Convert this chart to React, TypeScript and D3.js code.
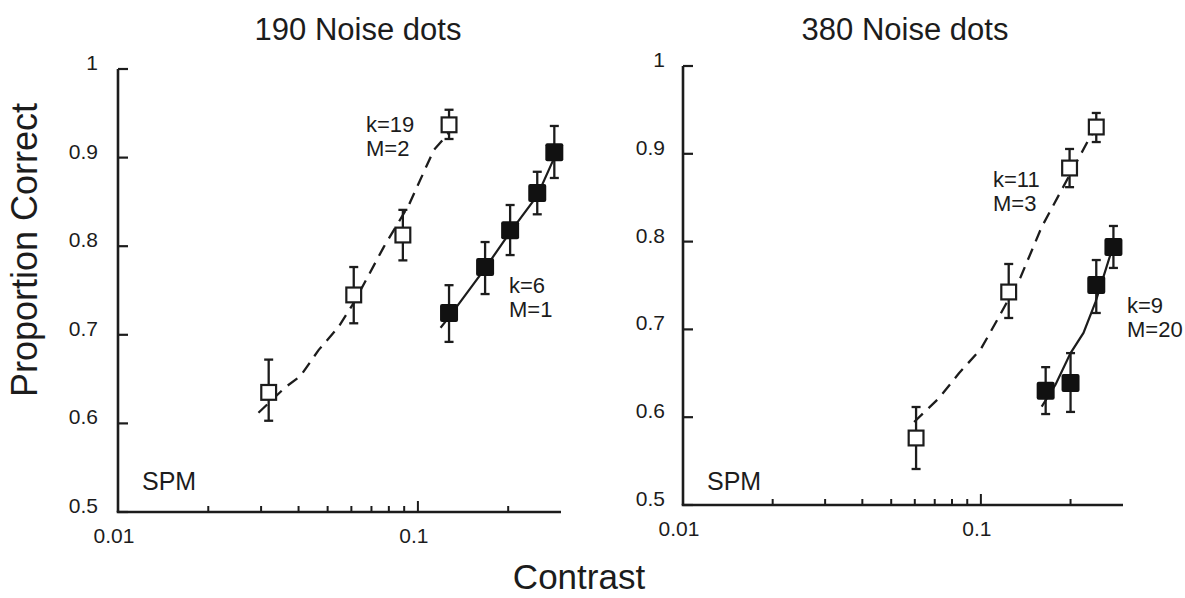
import React from "react";
import * as d3 from "d3";

// ---------- Data ----------
const panelTitles = ["190 Noise dots", "380 Noise dots"];
const yTickValues = [0.5, 0.6, 0.7, 0.8, 0.9, 1];
const yTickLabels = ["0.5", "0.6", "0.7", "0.8", "0.9", "1"];
const xMajorTicks = [0.01, 0.1];
const xMajorLabels = ["0.01", "0.1"];
const xMinorTicks = [0.02, 0.03, 0.04, 0.05, 0.06, 0.07, 0.08, 0.09, 0.2];
const xDomain = [0.01, 0.3];
const yDomain = [0.5, 1];

// Left panel: 190 noise dots
const leftOpenX = [0.0318, 0.0611, 0.0891, 0.127];
const leftOpenY = [0.635, 0.745, 0.8126, 0.937];
const leftOpenLo = [0.603, 0.713, 0.784, 0.921];
const leftOpenHi = [0.672, 0.7765, 0.841, 0.954];
const leftFilledX = [0.127, 0.1675, 0.203, 0.25, 0.285];
const leftFilledY = [0.7246, 0.7765, 0.818, 0.86, 0.906];
const leftFilledLo = [0.692, 0.746, 0.79, 0.836, 0.877];
const leftFilledHi = [0.756, 0.8047, 0.8465, 0.884, 0.9357];
const leftDashFitX = [0.0294, 0.0362, 0.0406, 0.0467, 0.0544, 0.0611, 0.0769, 0.0933, 0.113, 0.127];
const leftDashFitY = [0.612, 0.641, 0.6535, 0.683, 0.709, 0.736, 0.799, 0.8465, 0.9086, 0.928];
const leftSolidFitX = [0.119, 0.127, 0.1675, 0.203, 0.25, 0.285];
const leftSolidFitY = [0.708, 0.72, 0.775, 0.816, 0.857, 0.9];
const leftOpenLabel = ["k=19", "M=2"];
const leftFilledLabel = ["k=6", "M=1"];

// Right panel: 380 noise dots
const rightOpenX = [0.0606, 0.124, 0.1985, 0.244];
const rightOpenY = [0.5763, 0.7426, 0.8838, 0.9305];
const rightOpenLo = [0.541, 0.713, 0.862, 0.9134];
const rightOpenHi = [0.6116, 0.7745, 0.9055, 0.9465];
const rightFilledX = [0.165, 0.2, 0.244, 0.2786];
const rightFilledY = [0.63, 0.639, 0.7506, 0.7938];
const rightFilledLo = [0.6036, 0.606, 0.7187, 0.77];
const rightFilledHi = [0.657, 0.673, 0.779, 0.8178];
const rightDashFitX = [0.0597, 0.0724, 0.0844, 0.1, 0.1149, 0.136, 0.16, 0.1866, 0.2297, 0.244];
const rightDashFitY = [0.5945, 0.6219, 0.65, 0.6777, 0.714, 0.7597, 0.8166, 0.8588, 0.9157, 0.9305];
const rightSolidFitX = [0.16, 0.178, 0.2, 0.221, 0.2425, 0.275];
const rightSolidFitY = [0.612, 0.637, 0.673, 0.696, 0.731, 0.79];
const rightOpenLabel = ["k=11", "M=3"];
const rightFilledLabel = ["k=9", "M=20"];

const modelLabel = "SPM";
const xAxisTitle = "Contrast";
const yAxisTitle = "Proportion Correct";

// ---------- Layout ----------
const FONT = "'Liberation Sans', Arial, Helvetica, sans-serif";
const INK = "#1c1c1c";

type Panel = {
  title: string;
  titleX: number;
  x0: number;
  x1: number;
  yTop: number;
  yBot: number;
  openX: number[]; openY: number[]; openLo: number[]; openHi: number[];
  filledX: number[]; filledY: number[]; filledLo: number[]; filledHi: number[];
  dashX: number[]; dashY: number[];
  solidX: number[]; solidY: number[];
  openLabel: string[]; openLabelPos: [number, number];
  filledLabel: string[]; filledLabelPos: [number, number];
  labelGap: number;
};

const panels: Panel[] = [
  {
    title: panelTitles[0], titleX: 358,
    x0: 118, x1: 561, yTop: 69, yBot: 512,
    openX: leftOpenX, openY: leftOpenY, openLo: leftOpenLo, openHi: leftOpenHi,
    filledX: leftFilledX, filledY: leftFilledY, filledLo: leftFilledLo, filledHi: leftFilledHi,
    dashX: leftDashFitX, dashY: leftDashFitY, solidX: leftSolidFitX, solidY: leftSolidFitY,
    openLabel: leftOpenLabel, openLabelPos: [366, 132],
    filledLabel: leftFilledLabel, filledLabelPos: [509, 293],
    labelGap: 20,
  },
  {
    title: panelTitles[1], titleX: 905,
    x0: 683, x1: 1123, yTop: 66, yBot: 505,
    openX: rightOpenX, openY: rightOpenY, openLo: rightOpenLo, openHi: rightOpenHi,
    filledX: rightFilledX, filledY: rightFilledY, filledLo: rightFilledLo, filledHi: rightFilledHi,
    dashX: rightDashFitX, dashY: rightDashFitY, solidX: rightSolidFitX, solidY: rightSolidFitY,
    openLabel: rightOpenLabel, openLabelPos: [993, 187],
    filledLabel: rightFilledLabel, filledLabelPos: [1127, 313],
    labelGap: 18,
  },
];

function PanelView({ p }: { p: Panel }) {
  const x = d3.scaleLog().domain(xDomain).range([p.x0, p.x1]);
  const y = d3.scaleLinear().domain(yDomain).range([p.yBot, p.yTop]);
  const line = d3
    .line<[number, number]>()
    .x((d) => x(d[0]))
    .y((d) => y(d[1]));
  const dashPts = p.dashX.map((v, i) => [v, p.dashY[i]] as [number, number]);
  const solidPts = p.solidX.map((v, i) => [v, p.solidY[i]] as [number, number]);
  const cap = 4.5;
  const sq = 17;
  return (
    <g>
      <text x={p.titleX} y={40} textAnchor="middle" fontSize={31} fill={INK} fontFamily={FONT}>
        {p.title}
      </text>
      {/* axes */}
      <line x1={p.x0} x2={p.x0} y1={p.yTop} y2={p.yBot} stroke={INK} strokeWidth={2.6} />
      <line x1={p.x0 - 1.3} x2={p.x1} y1={p.yBot} y2={p.yBot} stroke={INK} strokeWidth={2.6} />
      {yTickValues.map((v, i) => (
        <g key={"yt" + i}>
          <line x1={p.x0} x2={p.x0 + 10} y1={y(v)} y2={y(v)} stroke={INK} strokeWidth={2.2} />
          <text x={p.x0 - p.labelGap} y={y(v) + 1} textAnchor="end" fontSize={21} fill={INK} fontFamily={FONT}>
            {yTickLabels[i]}
          </text>
        </g>
      ))}
      {xMinorTicks.map((v, i) => (
        <line key={"xm" + i} x1={x(v)} x2={x(v)} y1={p.yBot} y2={p.yBot - 6} stroke={INK} strokeWidth={2} />
      ))}
      {xMajorTicks.map((v, i) => (
        <g key={"xM" + i}>
          {i > 0 && <line x1={x(v)} x2={x(v)} y1={p.yBot} y2={p.yBot - 11} stroke={INK} strokeWidth={2} />}
          <text x={x(v) - 4} y={p.yBot + 31} textAnchor="middle" fontSize={21} fill={INK} fontFamily={FONT}>
            {xMajorLabels[i]}
          </text>
        </g>
      ))}
      <text x={p.x0 + 24} y={490} fontSize={25} fill={INK} fontFamily={FONT}>
        {modelLabel}
      </text>
      {/* fitted curves */}
      <path d={line(dashPts) || ""} fill="none" stroke={INK} strokeWidth={2.3} strokeDasharray="12,8" />
      <path d={line(solidPts) || ""} fill="none" stroke={INK} strokeWidth={2.2} />
      {/* error bars */}
      {p.openX.map((v, i) => (
        <g key={"oe" + i} stroke={INK} strokeWidth={2.3}>
          <line x1={x(v)} x2={x(v)} y1={y(p.openLo[i])} y2={y(p.openHi[i])} />
          <line x1={x(v) - cap} x2={x(v) + cap} y1={y(p.openLo[i])} y2={y(p.openLo[i])} />
          <line x1={x(v) - cap} x2={x(v) + cap} y1={y(p.openHi[i])} y2={y(p.openHi[i])} />
        </g>
      ))}
      {p.filledX.map((v, i) => (
        <g key={"fe" + i} stroke={INK} strokeWidth={2.3}>
          <line x1={x(v)} x2={x(v)} y1={y(p.filledLo[i])} y2={y(p.filledHi[i])} />
          <line x1={x(v) - cap} x2={x(v) + cap} y1={y(p.filledLo[i])} y2={y(p.filledLo[i])} />
          <line x1={x(v) - cap} x2={x(v) + cap} y1={y(p.filledHi[i])} y2={y(p.filledHi[i])} />
        </g>
      ))}
      {/* markers */}
      {p.openX.map((v, i) => (
        <rect key={"om" + i} x={x(v) - sq / 2 + 1.1} y={y(p.openY[i]) - sq / 2 + 1.1} width={sq - 2.2} height={sq - 2.2}
          fill="#fff" stroke={INK} strokeWidth={2.2} />
      ))}
      {p.filledX.map((v, i) => (
        <rect key={"fm" + i} x={x(v) - 9} y={y(p.filledY[i]) - 9} width={18} height={18} rx={2}
          fill="#111" stroke="none" />
      ))}
      {/* annotations */}
      {p.openLabel.map((s, i) => (
        <text key={"ol" + i} x={p.openLabelPos[0]} y={p.openLabelPos[1] + i * 24} fontSize={22} fill={INK} fontFamily={FONT}>
          {s}
        </text>
      ))}
      {p.filledLabel.map((s, i) => (
        <text key={"fl" + i} x={p.filledLabelPos[0]} y={p.filledLabelPos[1] + i * 24} fontSize={22} fill={INK} fontFamily={FONT}>
          {s}
        </text>
      ))}
    </g>
  );
}

export default function App() {
  return (
    <svg
      width={1185}
      height={598}
      viewBox="0 0 1185 598"
      style={{ position: "absolute", left: 0, top: 0, background: "#fff" }}
    >
      <rect x={0} y={0} width={1185} height={598} fill="#fff" />
      {panels.map((p, i) => (
        <PanelView key={i} p={p} />
      ))}
      <text x={579} y={589} textAnchor="middle" fontSize={35} fill={INK} fontFamily={FONT}>
        {xAxisTitle}
      </text>
      <text
        transform={`translate(37,250) rotate(-90)`}
        textAnchor="middle"
        fontSize={36}
        fill={INK}
        fontFamily={FONT}
      >
        {yAxisTitle}
      </text>
    </svg>
  );
}
